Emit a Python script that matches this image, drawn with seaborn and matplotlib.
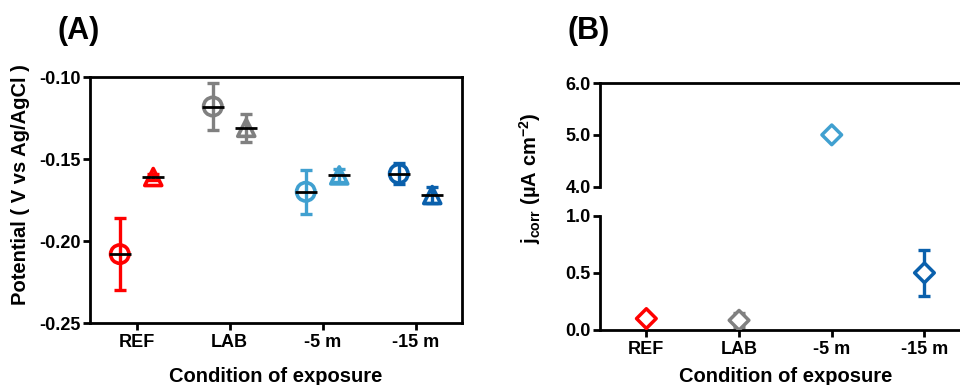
import numpy as np
import pandas as pd
import matplotlib
matplotlib.use("Agg")
import matplotlib.pyplot as plt
import seaborn as sns

# ---------------- data ----------------
categories = ["REF", "LAB", "-5 m", "-15 m"]
colors = ["#FF0000", "#808080", "#40A0D0", "#0A60AC"]

# Panel A: potential (V vs Ag/AgCl), two series (circle, triangle)
circle_mean = [-0.208, -0.118, -0.170, -0.159]
circle_err = [0.022, 0.0145, 0.0135, 0.0065]
tri_mean = [-0.161, -0.131, -0.160, -0.172]
tri_err = [0.002, 0.0085, 0.004, 0.005]

# Panel B: jcorr (uA cm^-2)
j_mean = [0.10, 0.085, 5.0, 0.50]
j_err = [0.0, 0.06, 0.0, 0.20]

a_yticks = [-0.25, -0.20, -0.15, -0.10]
b_low_ticks = [0.0, 0.5, 1.0]
b_high_ticks = [4.0, 5.0, 6.0]

# ---------------- style ----------------
sns.set_theme(style="ticks")
plt.rcParams["font.family"] = ["Liberation Sans", "DejaVu Sans"]
plt.rcParams["font.weight"] = "bold"
plt.rcParams["text.color"] = "black"
plt.rcParams["axes.labelcolor"] = "black"
plt.rcParams["xtick.color"] = "black"
plt.rcParams["ytick.color"] = "black"
plt.rcParams["mathtext.fontset"] = "custom"
plt.rcParams["mathtext.rm"] = "Liberation Sans:bold"
plt.rcParams["mathtext.bf"] = "Liberation Sans:bold"
plt.rcParams["mathtext.it"] = "Liberation Sans:bold"

LW = 2.0
fig = plt.figure(figsize=(9.6, 3.85), dpi=100)

def style_axis(ax, fs_y, fs_x):
    for s in ax.spines.values():
        s.set_linewidth(LW)
        s.set_color("black")
    ax.tick_params(axis="both", direction="out", length=5, width=LW, color="black",
                   labelcolor="black")
    ax.tick_params(axis="y", labelsize=fs_y, pad=1.5)
    ax.tick_params(axis="x", labelsize=fs_x, pad=3)
    for lab in ax.get_xticklabels() + ax.get_yticklabels():
        lab.set_fontweight("bold")

# ---------------- Panel A ----------------
axA = fig.add_axes([90 / 960, (385 - 323) / 385, 372 / 960, 246 / 385])
x = np.arange(len(categories))
off = 0.18
dfc = pd.DataFrame({"x": x - off, "y": circle_mean, "cat": categories})
dft = pd.DataFrame({"x": x + off, "y": tri_mean, "cat": categories})

for i in range(len(categories)):
    axA.errorbar(x[i] - off, circle_mean[i], yerr=circle_err[i], fmt="none",
                 ecolor=colors[i], elinewidth=2.4, capsize=4.5, capthick=2.4, zorder=2)
    axA.errorbar(x[i] + off, tri_mean[i], yerr=tri_err[i], fmt="none",
                 ecolor=colors[i], elinewidth=2.4, capsize=4.5, capthick=2.4, zorder=2)

pal = dict(zip(categories, colors))
for df, mk, sz in [(dfc, "o", 175), (dft, "^", 150)]:
    sns.scatterplot(data=df, x="x", y="y", hue="cat", palette=pal, marker=mk, s=sz,
                    linewidth=2.6, legend=False, ax=axA, zorder=3)
    coll = axA.collections[-1]
    coll.set_edgecolors([pal[c] for c in df["cat"]])
    coll.set_facecolors("none")

half = 0.12
axA.hlines(circle_mean, x - off - half, x - off + half, colors="black", linewidth=2.0, zorder=4)
axA.hlines(tri_mean, x + off - half, x + off + half, colors="black", linewidth=2.0, zorder=4)

axA.set_xlim(-0.5, 3.5)
axA.set_ylim(-0.25, -0.10)
axA.set_xticks(x)
axA.set_xticklabels(categories)
axA.set_yticks(a_yticks)
axA.set_yticklabels([f"{v:.2f}" for v in a_yticks])
axA.set_xlabel("")
axA.set_ylabel("")
style_axis(axA, 13, 13)

fig.text(276 / 960, 2.5 / 385, "Condition of exposure", ha="center", va="baseline",
         fontsize=14.5, fontweight="bold")
fig.text(21 / 960, 200 / 385, "Potential ( V vs Ag/AgCl )", ha="center", va="center",
         rotation=90, fontsize=14.5, fontweight="bold")
fig.text(79 / 960, 1 - 31 / 385, "(A)", ha="center", va="center", fontsize=22, fontweight="bold")

# ---------------- Panel B ----------------
unit = 92.7
bw = 4 * unit / 960
axL = fig.add_axes([600 / 960, (385 - 330) / 385, bw, (330 - 215.7) / 385])
axH = fig.add_axes([600 / 960, (385 - 186.7) / 385, bw, (186.7 - 83) / 385])

dfj = pd.DataFrame({"x": x, "y": j_mean, "cat": categories})
for ax in (axL, axH):
    for i in range(len(categories)):
        if j_err[i] > 0:
            ax.errorbar(x[i], j_mean[i], yerr=j_err[i], fmt="none", ecolor=colors[i],
                        elinewidth=2.4, capsize=4.5, capthick=2.4, zorder=2)
    sns.scatterplot(data=dfj, x="x", y="y", hue="cat", palette=pal, marker="D", s=100,
                    linewidth=2.5, legend=False, ax=ax, zorder=3)
    coll = ax.collections[-1]
    coll.set_edgecolors([pal[c] for c in categories])
    coll.set_facecolors(["white"] * len(categories))
    ax.set_xlim(-0.5, 3.5)
    ax.set_xlabel("")
    ax.set_ylabel("")

axL.set_ylim(0, 1.0)
axH.set_ylim(4.0, 6.0)
axL.set_yticks(b_low_ticks)
axL.set_yticklabels([f"{v:.1f}" for v in b_low_ticks])
axH.set_yticks(b_high_ticks)
axH.set_yticklabels([f"{v:.1f}" for v in b_high_ticks])
axL.set_xticks(x)
axL.set_xticklabels(categories)
axH.set_xticks([])
axL.spines["top"].set_visible(False)
axL.spines["right"].set_visible(False)
axH.spines["bottom"].set_visible(False)
axH.spines["right"].set_visible(False)
style_axis(axL, 13, 13)
style_axis(axH, 13, 13)
axH.tick_params(axis="x", length=0)

fig.text(786 / 960, 3.0 / 385, "Condition of exposure", ha="center", va="baseline",
         fontsize=14.5, fontweight="bold")
fig.text(530 / 960, 207 / 385, r"j$_{\mathbf{corr}}$ (µA cm$^{\mathbf{-2}}$)", ha="center",
         va="center", rotation=90, fontsize=14.5, fontweight="bold")
fig.text(589 / 960, 1 - 31 / 385, "(B)", ha="center", va="center", fontsize=22, fontweight="bold")

fig.savefig("out.png", dpi=100)
